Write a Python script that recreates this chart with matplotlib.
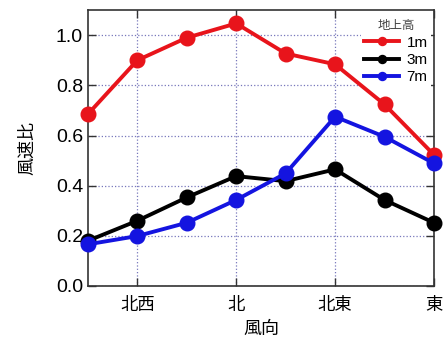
import matplotlib
matplotlib.use("Agg")
import matplotlib.pyplot as plt

plt.rcParams['font.family'] = ['Liberation Sans', 'Noto Sans CJK JP', 'DejaVu Sans']

x_pos = [0, 1, 2, 3, 4, 5, 6, 7]
tick_pos = [1, 3, 5, 7]
tick_labels = ['北西', '北', '北東', '東']
h1m = [0.685, 0.90, 0.99, 1.047, 0.927, 0.884, 0.724, 0.523]
h3m = [0.18, 0.26, 0.353, 0.438, 0.418, 0.465, 0.343, 0.252]
h7m = [0.166, 0.199, 0.252, 0.343, 0.449, 0.675, 0.595, 0.489]
series_labels = ['1m', '3m', '7m']
colors = ['#e8141b', '#000000', '#1414e0']

fig = plt.figure(figsize=(4.46, 3.38), dpi=100)
ax = fig.add_axes([0.197, 0.154, 0.776, 0.816])

for vals, lab, c in zip([h1m, h3m, h7m], series_labels, colors):
    ax.plot(x_pos, vals, '-o', color=c, lw=2.8, ms=10.5, label=lab,
            clip_on=False, zorder=3)

ax.set_xlim(0, 7)
ax.set_ylim(0, 1.1)
ax.set_xticks(tick_pos)
ax.set_xticklabels(tick_labels, fontsize=12.5)
ax.set_yticks([0.0, 0.2, 0.4, 0.6, 0.8, 1.0])
ax.set_yticklabels(['0.0', '0.2', '0.4', '0.6', '0.8', '1.0'], fontsize=14)
ax.tick_params(direction='in', top=True, right=True, length=6, width=1, color='#333333')
ax.tick_params(axis='x', pad=8)
ax.grid(True, linestyle=':', color='#7777bb', lw=0.9)
ax.set_axisbelow(True)
for s in ax.spines.values():
    s.set_color('#333333')
    s.set_linewidth(1.2)

ax.set_xlabel('風向', fontsize=13, labelpad=6)
ax.set_ylabel('風速比', fontsize=13, labelpad=14)

leg = ax.legend(title='地上高', loc='upper right', bbox_to_anchor=(1.0, 0.985),
                fontsize=11, title_fontsize=9,
                frameon=True, edgecolor='none', framealpha=1, fancybox=False,
                handlelength=2.3, markerscale=0.55, borderaxespad=0.2,
                borderpad=0.2, labelspacing=0.22, handletextpad=0.5)
leg.get_title().set_color('#444444')
leg.set_zorder(2.5)

fig.savefig('out.png', dpi=100)
